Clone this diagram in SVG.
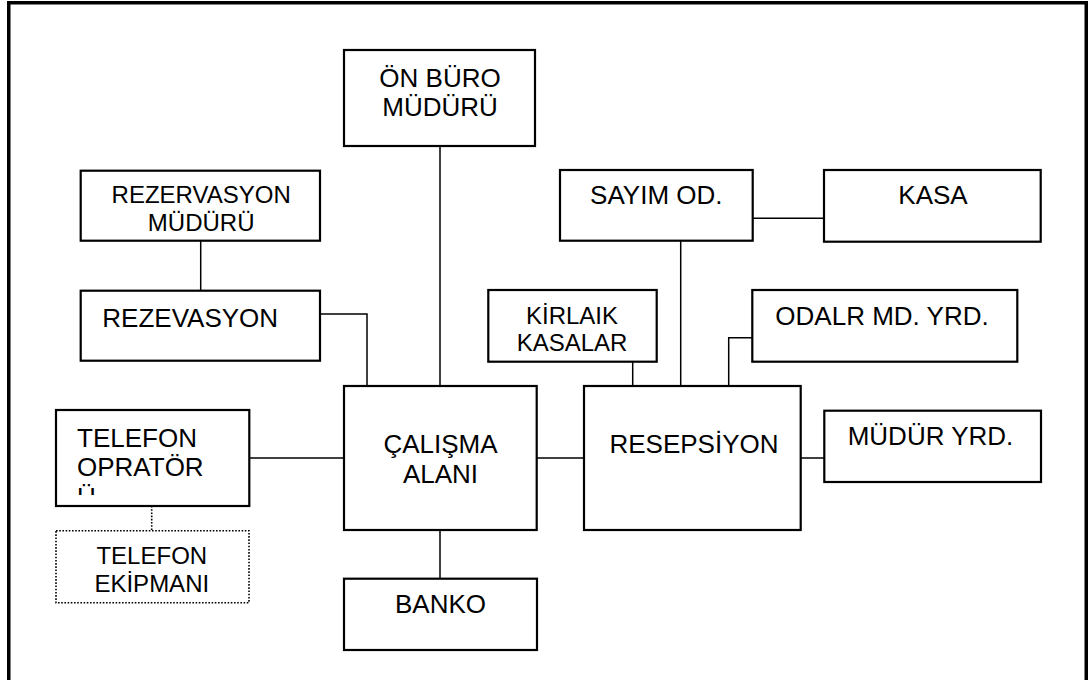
<svg xmlns="http://www.w3.org/2000/svg" width="1088" height="680" viewBox="0 0 1088 680">
<style>
.box{fill:#fff;stroke:#000;stroke-width:2.2}
.dot{fill:#fff;stroke:#000;stroke-width:1.6;stroke-dasharray:1.6 1.6}
.ln{fill:none;stroke:#000;stroke-width:1.5}
.dl{fill:none;stroke:#000;stroke-width:1.6;stroke-dasharray:1.6 1.6}
text{font-family:"Liberation Sans",Arial,sans-serif;font-size:26px;fill:#000}
.c{text-anchor:middle}
.s{font-size:24px}
</style>
<defs>
<clipPath id="telclip"><rect x="56" y="410" width="194" height="85"/></clipPath>
</defs>
<rect x="0" y="0" width="1088" height="680" fill="#fff"/>
<rect x="8.75" y="2.75" width="1077.5" height="700" fill="none" stroke="#000" stroke-width="3.5"/>
<g id="connectors">
<line class="ln" x1="440" y1="146" x2="440" y2="386"/>
<line class="ln" x1="200.7" y1="240.7" x2="200.7" y2="290.7"/>
<polyline class="ln" points="320,314 367,314 367,386"/>
<line class="ln" x1="249.3" y1="458" x2="344" y2="458"/>
<line class="dl" x1="151.7" y1="506" x2="151.7" y2="530.7"/>
<line class="ln" x1="440" y1="530" x2="440" y2="578.7"/>
<line class="ln" x1="536.7" y1="458" x2="584" y2="458"/>
<line class="ln" x1="632.7" y1="361.7" x2="632.7" y2="386"/>
<line class="ln" x1="680.7" y1="240.7" x2="680.7" y2="386"/>
<polyline class="ln" points="752.3,337.7 728.7,337.7 728.7,386"/>
<line class="ln" x1="752.7" y1="218.3" x2="824" y2="218.3"/>
<line class="ln" x1="800.7" y1="458" x2="824.3" y2="458"/>
</g>
<g id="on-buro">
<rect class="box" x="344" y="50" width="191" height="96"/>
<text class="c" x="440" y="86.7">ÖN BÜRO</text>
<text class="c" x="440" y="116">MÜDÜRÜ</text>
</g>
<g id="rezervasyon-muduru">
<rect class="box" x="80.7" y="170.7" width="239.3" height="70"/>
<text class="c s" x="201.2" y="203.3">REZERVASYON</text>
<text class="c s" x="201.2" y="231">MÜDÜRÜ</text>
</g>
<g id="rezevasyon">
<rect class="box" x="80.7" y="290.7" width="239.3" height="70"/>
<text x="102.3" y="326.7">REZEVASYON</text>
</g>
<g id="telefon-operatoru">
<rect class="box" x="56" y="410" width="193.3" height="96"/>
<g clip-path="url(#telclip)">
<text x="77" y="446.7">TELEFON</text>
<text x="77" y="476">OPRATÖR</text>
<text x="77" y="505.5">Ü</text>
</g>
</g>
<g id="telefon-ekipmani">
<rect class="dot" x="56" y="530.7" width="193" height="72"/>
<text class="c s" x="151.8" y="564.3">TELEFON</text>
<text class="c s" x="151.8" y="591.7">EKİPMANI</text>
</g>
<g id="calisma-alani">
<rect class="box" x="344" y="386" width="192.7" height="144"/>
<text class="c" x="440.5" y="452.7">ÇALIŞMA</text>
<text class="c" x="440.5" y="482.7">ALANI</text>
</g>
<g id="banko">
<rect class="box" x="344" y="578.7" width="193" height="71.3"/>
<text class="c" x="440.5" y="613.3">BANKO</text>
</g>
<g id="resepsiyon">
<rect class="box" x="584" y="386" width="216.7" height="144"/>
<text class="c" x="694" y="452.7">RESEPSİYON</text>
</g>
<g id="kirli-kasalar">
<rect class="box" x="488.3" y="290" width="168.4" height="71.7"/>
<text class="c s" x="572" y="324.3">KİRLAIK</text>
<text class="c s" x="572" y="351">KASALAR</text>
</g>
<g id="sayim-od">
<rect class="box" x="560" y="170" width="192.7" height="70.7"/>
<text class="c" x="656.3" y="204.3">SAYIM OD.</text>
</g>
<g id="kasa">
<rect class="box" x="824" y="170" width="216.7" height="71.7"/>
<text class="c" x="933" y="204.3">KASA</text>
</g>
<g id="odalar-md-yrd">
<rect class="box" x="752.3" y="290" width="265" height="71.7"/>
<text class="c" x="882" y="325">ODALR MD. YRD.</text>
</g>
<g id="mudur-yrd">
<rect class="box" x="824.3" y="410.7" width="216.7" height="71.3"/>
<text class="c" x="930.5" y="445">MÜDÜR YRD.</text>
</g>
</svg>
